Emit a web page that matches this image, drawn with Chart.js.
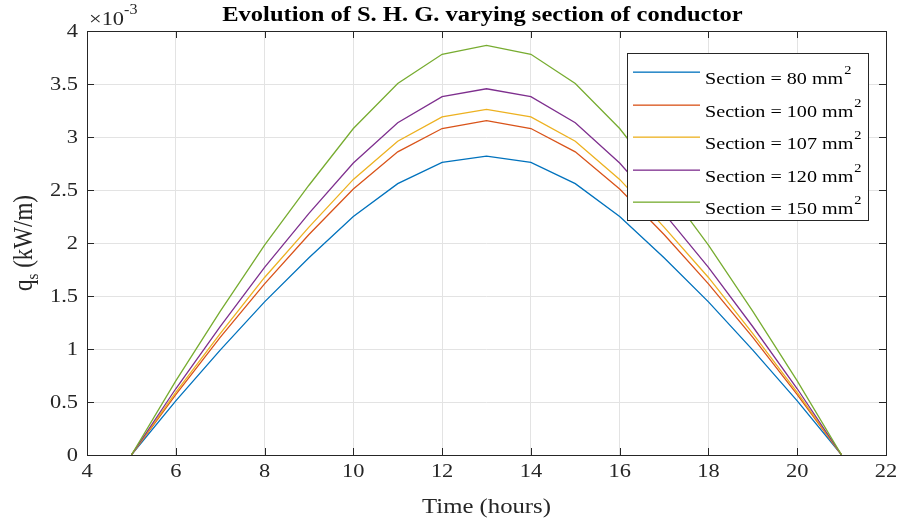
<!DOCTYPE html>
<html>
<head>
<meta charset="utf-8">
<script src="https://cdn.jsdelivr.net/npm/chart.js@4/dist/chart.umd.min.js"></script>
<style>
  html, body { margin: 0; padding: 0; background: #ffffff; }
  #wrap { width: 902px; height: 523px; position: relative; }
</style>
</head>
<body>
<div id="wrap"><canvas id="c" width="902" height="523"></canvas></div>
<script>
// Hour of the day (x axis)
const hours = [5, 6, 7, 8, 9, 10, 11, 12, 13, 14, 15, 16, 17, 18, 19, 20, 21];

// Conductor cross sections, mm^2
const sections = [80, 100, 107, 120, 150];

// Solar heat gain q_s in units of 1e-3 kW/m, one list per section
const q80  = [0, 0.51, 0.99, 1.445, 1.86, 2.25, 2.56, 2.76, 2.82, 2.76, 2.56, 2.25, 1.86, 1.445, 0.99, 0.51, 0];
const q100 = [0, 0.57, 1.11, 1.615, 2.08, 2.51, 2.86, 3.08, 3.155, 3.08, 2.86, 2.51, 2.08, 1.615, 1.11, 0.57, 0];
const q107 = [0, 0.59, 1.145, 1.675, 2.15, 2.60, 2.96, 3.19, 3.26, 3.19, 2.96, 2.60, 2.15, 1.675, 1.145, 0.59, 0];
const q120 = [0, 0.625, 1.21, 1.77, 2.28, 2.755, 3.135, 3.38, 3.455, 3.38, 3.135, 2.755, 2.28, 1.77, 1.21, 0.625, 0];
const q150 = [0, 0.70, 1.355, 1.98, 2.545, 3.08, 3.505, 3.78, 3.865, 3.78, 3.505, 3.08, 2.545, 1.98, 1.355, 0.70, 0];

// Axis ticks
const xTicks = [4, 6, 8, 10, 12, 14, 16, 18, 20, 22];
const yTicks = [0, 0.5, 1, 1.5, 2, 2.5, 3, 3.5, 4];
const xTickLabels = ['4', '6', '8', '10', '12', '14', '16', '18', '20', '22'];
const yTickLabels = ['0', '0.5', '1', '1.5', '2', '2.5', '3', '3.5', '4'];

const series = [q80, q100, q107, q120, q150];
const colors = ['#0072BD', '#D95319', '#EDB120', '#7E2F8E', '#77AC30'];

const SERIF = '"Liberation Serif", "Times New Roman", serif';
const AXIS_COLOR = '#262626';
const SX = 1.15; // horizontal widening of the serif lettering

const datasets = series.map((vals, i) => ({
  label: 'Section = ' + sections[i] + ' mm',
  data: hours.map((h, k) => ({ x: h, y: vals[k] })),
  borderColor: colors[i],
  backgroundColor: colors[i],
  borderWidth: 1.3,
  pointRadius: 0,
  tension: 0,
  fill: false,
  order: series.length - 1 - i
}));

// Writes a string with the widened serif face; returns its drawn width
function txt(ctx, s, x, y, size, align, baseline, color, bold) {
  ctx.save();
  ctx.font = (bold ? 'bold ' : '') + size + 'px ' + SERIF;
  ctx.fillStyle = color;
  ctx.textAlign = align;
  ctx.textBaseline = baseline;
  ctx.translate(x, y);
  ctx.scale(SX, 1);
  ctx.fillText(s, 0, 0);
  const w = ctx.measureText(s).width * SX;
  ctx.restore();
  return w;
}
function measure(ctx, s, size, bold) {
  ctx.save();
  ctx.font = (bold ? 'bold ' : '') + size + 'px ' + SERIF;
  const w = ctx.measureText(s).width * SX;
  ctx.restore();
  return w;
}

// Draws the axes box, inward ticks, tick labels, titles and the legend
const decor = {
  id: 'decor',
  afterDraw(chart) {
    const ctx = chart.ctx;
    const { left, right, top, bottom } = chart.chartArea;
    const xs = chart.scales.x, ys = chart.scales.y;
    const tl = 7;
    ctx.save();
    ctx.strokeStyle = AXIS_COLOR;
    ctx.lineWidth = 1;
    ctx.beginPath();
    xTicks.forEach(v => {
      const px = Math.round(xs.getPixelForValue(v)) + 0.5;
      ctx.moveTo(px, bottom); ctx.lineTo(px, bottom - tl);
      ctx.moveTo(px, top); ctx.lineTo(px, top + tl);
    });
    yTicks.forEach(v => {
      const py = Math.round(ys.getPixelForValue(v)) + 0.5;
      ctx.moveTo(left, py); ctx.lineTo(left + tl, py);
      ctx.moveTo(right, py); ctx.lineTo(right - tl, py);
    });
    ctx.stroke();
    ctx.strokeRect(Math.round(left) + 0.5, Math.round(top) + 0.5, Math.round(right - left), Math.round(bottom - top));

    // tick labels
    xTicks.forEach((v, i) => {
      txt(ctx, xTickLabels[i], xs.getPixelForValue(v), 477, 19.5, 'center', 'alphabetic', AXIS_COLOR);
    });
    yTicks.forEach((v, i) => {
      txt(ctx, yTickLabels[i], 78, ys.getPixelForValue(v) + 1, 19.5, 'right', 'middle', AXIS_COLOR);
    });

    // title
    txt(ctx, 'Evolution of S. H. G. varying section of conductor', (left + right) / 2 - 4, 21, 21.3, 'center', 'alphabetic', '#000000', true);

    // exponent marker
    const w10 = txt(ctx, '\u00d710', left + 2, 25, 19.5, 'left', 'alphabetic', AXIS_COLOR);
    txt(ctx, '-3', left + 2 + w10, 14, 14, 'left', 'alphabetic', AXIS_COLOR);

    // x axis title
    txt(ctx, 'Time (hours)', (left + right) / 2, 513, 21.5, 'center', 'alphabetic', AXIS_COLOR);

    // y axis title, rotated, with subscript
    ctx.save();
    ctx.translate(32, (top + bottom) / 2);
    ctx.rotate(-Math.PI / 2);
    ctx.scale(1, SX);
    ctx.fillStyle = AXIS_COLOR;
    ctx.textAlign = 'left';
    ctx.textBaseline = 'alphabetic';
    ctx.font = '23px ' + SERIF;
    const wq = ctx.measureText('q').width;
    const rest = ' (kW/m)';
    const wr = ctx.measureText(rest).width;
    ctx.font = '15px ' + SERIF;
    const ws = ctx.measureText('s').width;
    const x0 = -(wq + ws + wr) / 2;
    ctx.font = '23px ' + SERIF;
    ctx.fillText('q', x0, 0);
    ctx.fillText(rest, x0 + wq + ws, 0);
    ctx.font = '15px ' + SERIF;
    ctx.fillText('s', x0 + wq, 5);
    ctx.restore();

    // legend
    const bx = 627, by = 53, bw = 241, bh = 167;
    ctx.fillStyle = '#ffffff';
    ctx.fillRect(bx, by, bw, bh);
    ctx.strokeStyle = AXIS_COLOR;
    ctx.lineWidth = 1;
    ctx.strokeRect(bx + 0.5, by + 0.5, bw, bh);
    const rowH = 32.5, row0 = 72;
    chart.data.datasets.forEach((ds, i) => {
      const ry = Math.round(row0 + i * rowH);
      ctx.fillStyle = colors[i];
      ctx.fillRect(633, ry - 0.5, 67, 1.3);
      const wl = txt(ctx, ds.label, 705, ry + 12, 17.5, 'left', 'alphabetic', '#000000');
      txt(ctx, '2', 705 + wl + 1, ry + 1.5, 12.5, 'left', 'alphabetic', '#000000');
    });
    ctx.restore();
  }
};

new Chart(document.getElementById('c'), {
  type: 'line',
  data: { datasets },
  options: {
    responsive: false,
    animation: false,
    devicePixelRatio: 1,
    layout: { padding: { left: 0, top: 31, right: 16, bottom: 0 } },
    plugins: { legend: { display: false }, tooltip: { enabled: false }, title: { display: false } },
    scales: {
      x: {
        type: 'linear',
        min: 4, max: 22,
        afterBuildTicks: s => { s.ticks = xTicks.map(v => ({ value: v })); },
        afterFit: s => { s.height = 68; },
        grid: { color: '#e3e3e3', lineWidth: 1, drawTicks: false },
        border: { display: false },
        ticks: { display: false }
      },
      y: {
        type: 'linear',
        min: 0, max: 4,
        afterBuildTicks: s => { s.ticks = yTicks.map(v => ({ value: v })); },
        afterFit: s => { s.width = 87; },
        grid: { color: '#e3e3e3', lineWidth: 1, drawTicks: false },
        border: { display: false },
        ticks: { display: false }
      }
    }
  },
  plugins: [decor]
});
</script>
</body>
</html>
